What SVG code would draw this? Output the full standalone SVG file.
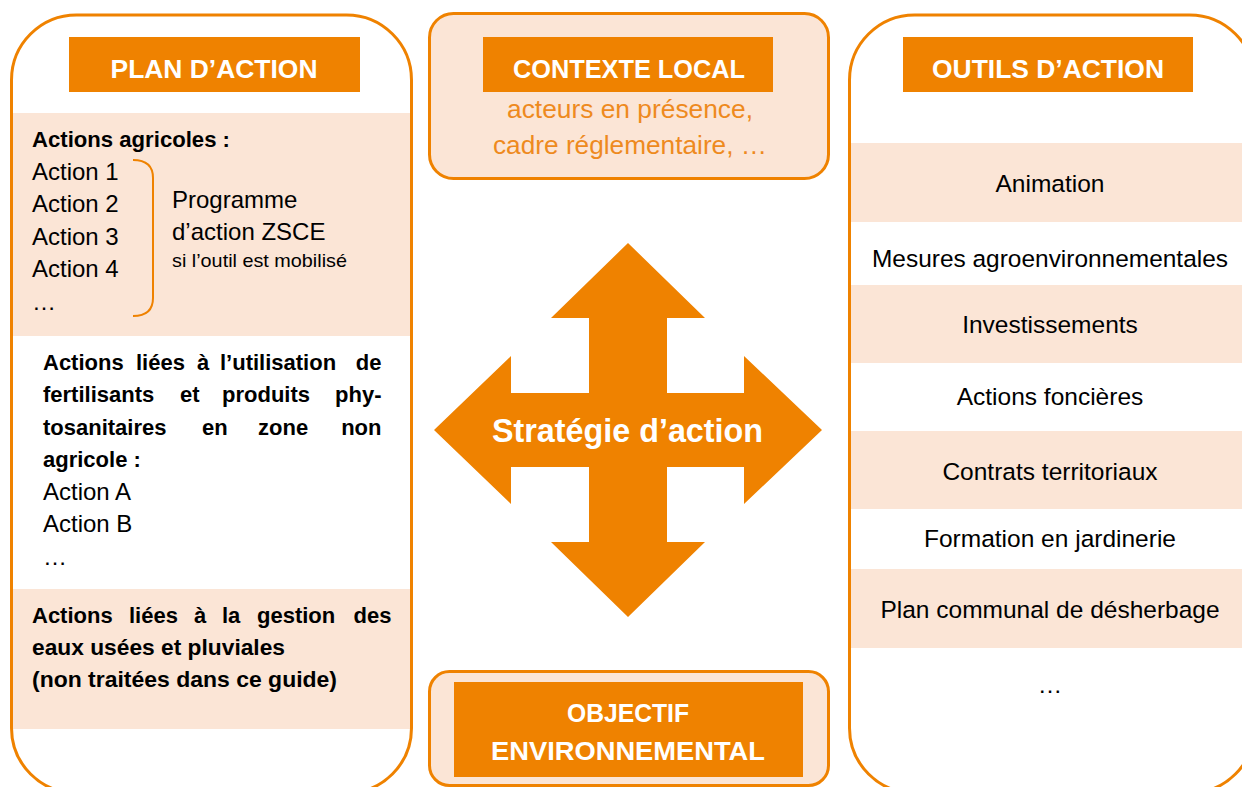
<svg xmlns="http://www.w3.org/2000/svg" width="1242" height="787" viewBox="0 0 1242 787">
<defs>
<style>
text{font-family:"Liberation Sans",Arial,sans-serif;fill:#000}
.hdr{fill:#EF8200}
.hdt{fill:#fff;font-weight:bold;font-size:26px;text-anchor:middle}
.peach{fill:#FBE5D6}
.frame{fill:none;stroke:#EF8200;stroke-width:3}
.b{font-weight:bold;font-size:22px}
.r{font-size:24px}
.rt{font-size:24.5px;text-anchor:middle}
.ot{font-size:26px;fill:#EE8A1E;text-anchor:middle}
</style>
</defs>
<rect width="1242" height="787" fill="#fff"/>

<g id="plan-action">
<rect class="peach" x="13" y="113" width="397" height="223"/>
<rect class="peach" x="13" y="589" width="397" height="140"/>
<rect class="frame" x="11.5" y="15" width="400" height="778" rx="65" ry="65"/>
<rect class="hdr" x="69" y="37" width="291" height="55"/>
<text class="hdt" x="214" y="78" textLength="207" lengthAdjust="spacingAndGlyphs">PLAN D’ACTION</text>
<text class="b" x="32" y="147" textLength="198" lengthAdjust="spacingAndGlyphs">Actions agricoles :</text>
<text class="r" x="32" y="180">Action 1</text>
<text class="r" x="32" y="212">Action 2</text>
<text class="r" x="32" y="245">Action 3</text>
<text class="r" x="32" y="277">Action 4</text>
<text class="r" x="32" y="310">…</text>
<path d="M133,160 Q153,160 153,178 L153,298 Q153,316 133,316" fill="none" stroke="#EF8200" stroke-width="2"/>
<text class="r" x="172" y="208">Programme</text>
<text class="r" x="172" y="240">d’action ZSCE</text>
<text x="172" y="267" font-size="18.5px" textLength="175" lengthAdjust="spacingAndGlyphs">si l’outil est mobilisé</text>
<g class="b">
<text x="43" y="370">Actions</text><text x="136" y="370">liées</text><text x="197" y="370">à</text><text x="220" y="370">l’utilisation</text><text x="381.5" y="370" text-anchor="end">de</text>
<text x="43" y="402">fertilisants</text><text x="180" y="402">et</text><text x="222" y="402">produits</text><text x="381.5" y="402" text-anchor="end">phy-</text>
<text x="43" y="435">tosanitaires</text><text x="202" y="435">en</text><text x="258" y="435">zone</text><text x="381.5" y="435" text-anchor="end">non</text>
<text x="43" y="467">agricole :</text>
</g>
<text class="r" x="43" y="500">Action A</text>
<text class="r" x="43" y="532">Action B</text>
<text class="r" x="43" y="565">…</text>
<g class="b">
<text x="32" y="623">Actions</text><text x="129" y="623">liées</text><text x="194" y="623">à</text><text x="222" y="623">la</text><text x="257" y="623">gestion</text><text x="391.5" y="623" text-anchor="end">des</text>
<text x="32" y="655" textLength="253" lengthAdjust="spacingAndGlyphs">eaux usées et pluviales</text>
<text x="32" y="687" textLength="305" lengthAdjust="spacingAndGlyphs">(non traitées dans ce guide)</text>
</g>
</g>

<g id="contexte-local">
<rect x="429.5" y="13.5" width="399" height="165" rx="24" ry="24" fill="#FBE5D6" stroke="#EF8200" stroke-width="3"/>
<rect class="hdr" x="483" y="37" width="290" height="55"/>
<text class="hdt" x="629" y="78" textLength="232" lengthAdjust="spacingAndGlyphs">CONTEXTE LOCAL</text>
<text class="ot" x="630" y="118" textLength="246" lengthAdjust="spacingAndGlyphs">acteurs en présence,</text>
<text class="ot" x="630" y="154" textLength="274" lengthAdjust="spacingAndGlyphs">cadre réglementaire, …</text>
</g>

<g id="strategie-action">
<polygon fill="#EF8200" points="628,243 705,318 667,318 667,393 744,393 744,356 822,430 744,504 744,467 667,467 667,542 705,542 628,617 551,542 589,542 589,467 511,467 511,504 434,430 511,356 511,393 589,393 589,318 551,318"/>
<text x="627.5" y="442" font-size="32.5px" font-weight="bold" text-anchor="middle" style="fill:#fff" textLength="271" lengthAdjust="spacingAndGlyphs">Stratégie d’action</text>
</g>

<g id="objectif-environnemental">
<rect x="429.5" y="671.5" width="399" height="114" rx="20" ry="20" fill="#FBE5D6" stroke="#EF8200" stroke-width="3"/>
<rect class="hdr" x="454" y="682" width="349" height="95"/>
<text class="hdt" x="628" y="722" textLength="122" lengthAdjust="spacingAndGlyphs">OBJECTIF</text>
<text class="hdt" x="628" y="760" textLength="274" lengthAdjust="spacingAndGlyphs">ENVIRONNEMENTAL</text>
</g>

<g id="outils-action">
<rect class="peach" x="851" y="143" width="391" height="79"/>
<rect class="peach" x="851" y="285" width="391" height="78"/>
<rect class="peach" x="851" y="431" width="391" height="78"/>
<rect class="peach" x="851" y="569" width="391" height="79"/>
<rect class="frame" x="849.5" y="15" width="405" height="778" rx="65" ry="65"/>
<rect class="hdr" x="903" y="37" width="290" height="55"/>
<text class="hdt" x="1048" y="78" textLength="232" lengthAdjust="spacingAndGlyphs">OUTILS D’ACTION</text>
<text class="rt" x="1050" y="192">Animation</text>
<text class="rt" x="1050" y="267" textLength="356" lengthAdjust="spacingAndGlyphs">Mesures agroenvironnementales</text>
<text class="rt" x="1050" y="333">Investissements</text>
<text class="rt" x="1050" y="405">Actions foncières</text>
<text class="rt" x="1050" y="480">Contrats territoriaux</text>
<text class="rt" x="1050" y="547">Formation en jardinerie</text>
<text class="rt" x="1050" y="618">Plan communal de désherbage</text>
<text class="rt" x="1050" y="693">…</text>
</g>

<g id="connectors"></g>
</svg>
